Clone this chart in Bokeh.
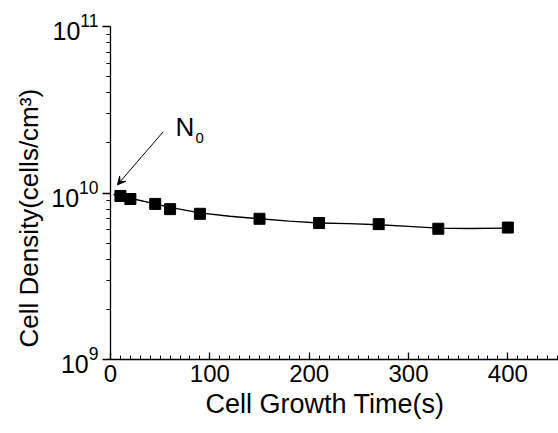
from bokeh.plotting import figure
from bokeh.models import Range1d, Label, Arrow, VeeHead, FixedTicker, Title
from bokeh.embed import file_html
from bokeh.resources import INLINE

# measured data
time_s = [10, 20, 45, 60, 90, 150, 210, 270, 330, 400]
density = [9.6e9, 9.2e9, 8.6e9, 8.0e9, 7.5e9, 7.0e9, 6.6e9, 6.5e9, 6.1e9, 6.2e9]

# fitted curve
fit_time = [3, 10, 20, 45, 60, 90, 120, 150, 180, 210, 240, 270, 300, 330, 360, 400]
fit_density = [9.8e9, 9.6e9, 9.3e9, 8.6e9, 8.2e9, 7.6e9, 7.25e9, 7.0e9, 6.78e9, 6.6e9,
               6.55e9, 6.45e9, 6.3e9, 6.15e9, 6.12e9, 6.15e9]

x_ticks = [0, 100, 200, 300, 400]
x_minor_ticks = list(range(0, 460, 10))
y_ticks = [1e9, 1e10, 1e11]
y_minor_ticks = [2e9, 3e9, 4e9, 5e9, 6e9, 7e9, 8e9, 9e9,
                 2e10, 3e10, 4e10, 5e10, 6e10, 7e10, 8e10, 9e10]

x_title = "Cell Growth Time(s)"
y_title = "Cell Density(cells/cm³)"

FONT = "Liberation Sans"

p = figure(width=558, height=433, output_backend="svg", toolbar_location=None,
           y_axis_type="log",
           x_range=Range1d(0, 451), y_range=Range1d(1e9, 1e11),
           min_border_left=110, min_border_top=26, min_border_right=0, min_border_bottom=74)

p.outline_line_color = None
p.grid.visible = False
p.background_fill_color = "white"
p.border_fill_color = "white"

p.line(fit_time, fit_density, line_color="black", line_width=1.4)
p.scatter(time_s, density, marker="square", size=11, color="black")

# x axis
xa = p.xaxis[0]
xa.ticker = FixedTicker(ticks=x_ticks, minor_ticks=x_minor_ticks)
xa.major_tick_in = 7
xa.major_tick_out = 0
xa.minor_tick_in = 4
xa.minor_tick_out = 0
xa.major_label_standoff = 5

# y axis
ya = p.yaxis[0]
ya.ticker = FixedTicker(ticks=y_ticks, minor_ticks=y_minor_ticks)
ya.major_tick_in = 0
ya.major_tick_out = 8
ya.minor_tick_in = 0
ya.minor_tick_out = 4
ya.major_label_standoff = 4

for ax in (xa, ya):
    ax.axis_line_color = "black"
    ax.axis_line_width = 1.3
    ax.major_tick_line_color = "black"
    ax.major_tick_line_width = 1.3
    ax.minor_tick_line_color = "black"
    ax.minor_tick_line_width = 1
    ax.major_label_text_font = FONT
    ax.major_label_text_color = "black"
xa.major_label_text_font_size = "24px"
ya.major_label_text_font_size = "25px"

# axis titles as side titles (left-aligned with an offset to match placement)
p.add_layout(Title(text=x_title, align="left", offset=95, standoff=4,
                   vertical_align="bottom",
                   text_font=FONT, text_font_size="27px", text_font_style="normal",
                   text_color="black"), "below")
p.add_layout(Title(text=y_title, align="left", offset=12, standoff=9,
                   text_font=FONT, text_font_size="26px", text_font_style="normal",
                   text_color="black"), "left")

# N0 annotation
p.add_layout(Arrow(end=VeeHead(size=8, line_color="black", fill_color="black", line_width=1),
                   x_start=53, y_start=2.33e10, x_end=7, y_end=1.12e10,
                   line_color="black", line_width=1))
p.add_layout(Label(x=65.5, y=2.49e10, text="N", text_font=FONT, text_font_size="26px",
                   text_color="black", text_baseline="alphabetic"))
p.add_layout(Label(x=85.5, y=2.15e10, text="0", text_font=FONT, text_font_size="15px",
                   text_color="black", text_baseline="alphabetic"))

open("out.html", "w").write(file_html(p, INLINE))
